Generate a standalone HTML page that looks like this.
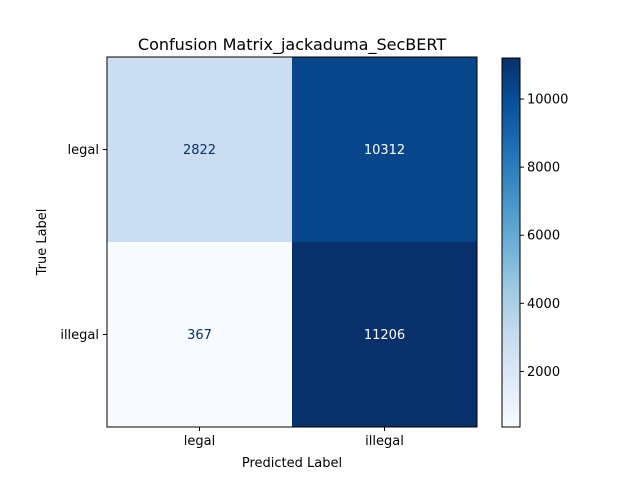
<!DOCTYPE html>
<html><head><meta charset="utf-8"><style>
body{margin:0;background:#fff}
svg{font-family:"DejaVu Sans","Liberation Sans",sans-serif}
</style></head><body>
<svg id="c" width="640" height="480" xmlns="http://www.w3.org/2000/svg">
<defs><linearGradient id="blues" x1="0" y1="1" x2="0" y2="0">
<stop offset="0" stop-color="#f7fbff"/><stop offset="0.125" stop-color="#deebf7"/><stop offset="0.25" stop-color="#c6dbef"/><stop offset="0.375" stop-color="#9ecae1"/><stop offset="0.5" stop-color="#6baed6"/><stop offset="0.625" stop-color="#4292c6"/><stop offset="0.75" stop-color="#2171b5"/><stop offset="0.875" stop-color="#08519c"/><stop offset="1" stop-color="#08306b"/></linearGradient></defs>
</svg>
<script>
const trueLabels=["legal","illegal"];
const predLabels=["legal","illegal"];
const matrix=[[2822,10312],[367,11206]];
const cbTicks=[2000,4000,6000,8000,10000];
const svg=document.getElementById('c');
const NS="http://www.w3.org/2000/svg";
function mk(t,a,txt){const e=document.createElementNS(NS,t);for(const k in a)e.setAttribute(k,a[k]);if(txt!==undefined)e.textContent=txt;svg.appendChild(e);return e;}
const X0=107,Y0=57,W=370,H=370;
const flat=matrix.flat();const vmin=Math.min(...flat),vmax=Math.max(...flat);
const stops=["f7fbff","deebf7","c6dbef","9ecae1","6baed6","4292c6","2171b5","08519c","08306b"].map(h=>[parseInt(h.slice(0,2),16),parseInt(h.slice(2,4),16),parseInt(h.slice(4),16)]);
function cmap(v){let t=(v-vmin)/(vmax-vmin);t=Math.max(0,Math.min(1,t))*8;const i=Math.min(7,Math.floor(t)),f=t-i;const c=stops[i].map((a,j)=>Math.round(a+(stops[i+1][j]-a)*f));return `rgb(${c})`;}
const n=trueLabels.length,cw=W/predLabels.length,ch=H/n;
matrix.forEach((row,r)=>row.forEach((v,c)=>{
 const rect=mk('rect',{x:X0+c*cw,y:Y0+r*ch,width:cw,height:ch,fill:cmap(v)});
 
 
 const t=mk('text',{x:X0+(c+.5)*cw,y:Y0+(r+.5)*ch+4.5,'text-anchor':'middle','font-size':13,fill:(v-vmin)/(vmax-vmin)>0.5?'#fff':'#08306b'},v);
 
 
}));
const fr=mk('rect',{x:X0,y:Y0,width:W,height:H,fill:'none',stroke:'#000','stroke-width':1});

predLabels.forEach((l,i)=>{const x=X0+(i+.5)*cw;mk('line',{x1:x,x2:x,y1:Y0+H,y2:Y0+H+4,stroke:'#000'});
 const t=mk('text',{x:x,y:Y0+H+18,'text-anchor':'middle','font-size':13},l);});
trueLabels.forEach((l,i)=>{const y=Y0+(i+.5)*ch;mk('line',{x1:X0-4,x2:X0,y1:y,y2:y,stroke:'#000'});
 const t=mk('text',{x:X0-8,y:y+4.5,'text-anchor':'end','font-size':13},l);});
let e=mk('text',{x:X0+W/2,y:467,'text-anchor':'middle','font-size':13},'Predicted Label');
e=mk('text',{x:0,y:0,'text-anchor':'middle','font-size':13,transform:`translate(46,${Y0+H/2}) rotate(-90)`},'True Label');
e=mk('text',{x:X0+W/2,y:50,'text-anchor':'middle','font-size':16},'Confusion Matrix_jackaduma_SecBERT');
const CX=502,CW=18,CT=58,CB=427;
function cy(v){return CB-(v-vmin)/(vmax-vmin)*(CB-CT);}
e=mk('rect',{x:CX,y:CT,width:CW,height:CB-CT,fill:'url(#blues)',stroke:'#000','stroke-width':1});
cbTicks.forEach(v=>{const y=cy(v);mk('line',{x1:CX+CW,x2:CX+CW+4,y1:y,y2:y,stroke:'#000'});
 const t=mk('text',{x:CX+CW+7,y:y+4.5,'font-size':13},v);});
</script>
</body></html>
